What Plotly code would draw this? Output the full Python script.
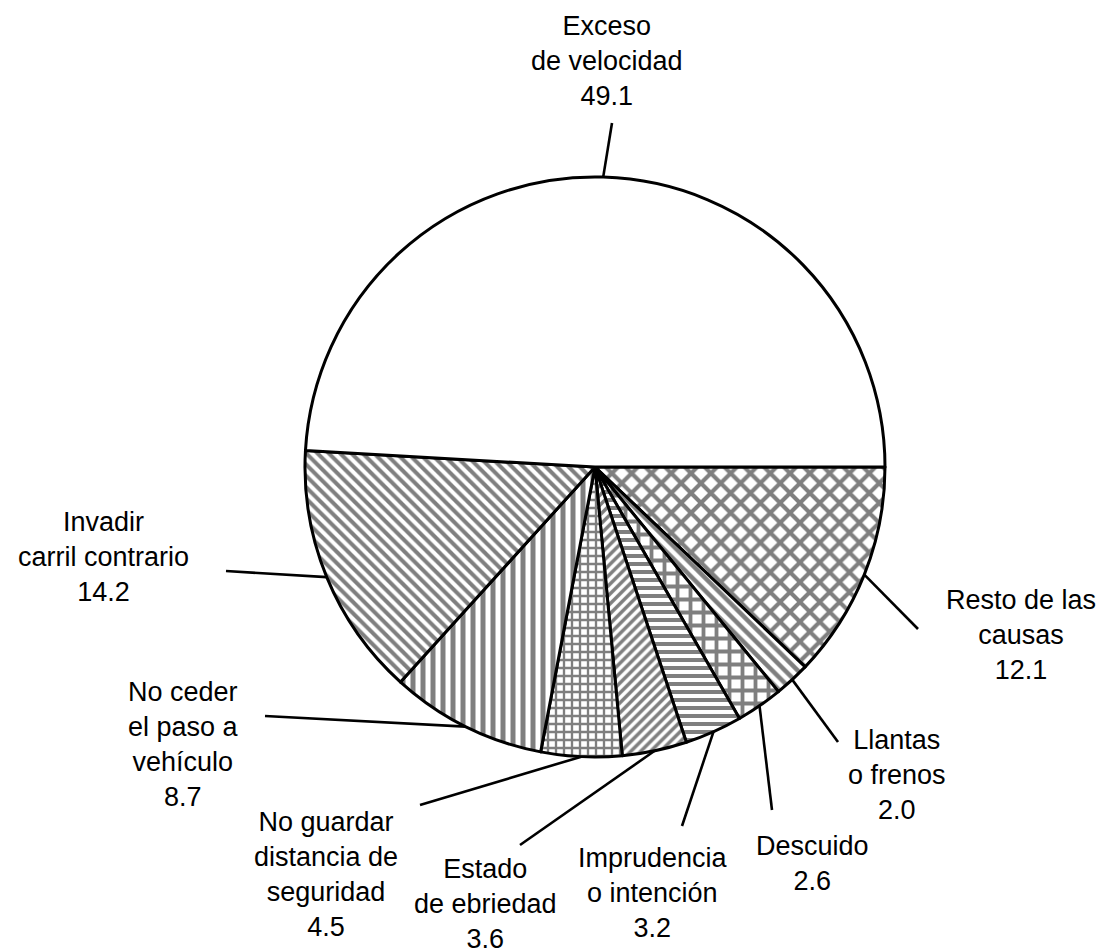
import numpy as np
import plotly.graph_objects as go

# slices, clockwise from 3 o'clock
causas = [
    "Resto de las<br>causas",
    "Llantas<br>o frenos",
    "Descuido",
    "Imprudencia<br>o intención",
    "Estado<br>de ebriedad",
    "No guardar<br>distancia de<br>seguridad",
    "No ceder<br>el paso a<br>vehículo",
    "Invadir<br>carril contrario",
    "Exceso<br>de velocidad",
]
porcentajes = [12.1, 2.0, 2.6, 3.2, 3.6, 4.5, 8.7, 14.2, 49.1]

tramas = ["x", "\\", "+", "-", "/", "+", "|", "\\", ""]
tamanos = [14, 9, 13, 8, 7, 8, 10, 8, 8]

# page size; the browser puts the figure 8 px in from the top-left corner
W, H = 1104, 951
OFF = 8
cx, cy, r = 595, 467, 290

# where each label sits (page pixels) and where its leader line stops
pos_texto = [(1021, 635), (897, 775), (812, 863), (653, 893), (485, 904),
             (326, 874), (183, 744), (103, 557), (607, 61)]
fin_linea = [(918, 629), (838, 742), (772, 810), (682, 826), (520, 845),
             (420, 805), (265, 716), (226, 571), (612, 123)]

# leader lines start at the middle of each slice
total = sum(porcentajes)
acum = np.cumsum([0] + porcentajes)
lx, ly = [], []
for i, p in enumerate(porcentajes):
    mid = (acum[i] + p / 2) / total * 2 * np.pi
    x0 = cx + r * np.cos(mid)
    y0 = cy + r * np.sin(mid)
    lx += [x0, fin_linea[i][0], None]
    ly += [y0, fin_linea[i][1], None]

fig = go.Figure()

fig.add_trace(go.Scatter(
    x=lx, y=ly, mode="lines",
    line=dict(color="black", width=2.6),
    hoverinfo="skip", showlegend=False,
))

fw, fh = W - OFF, H - OFF
fig.add_trace(go.Pie(
    labels=[c.replace("<br>", " ") for c in causas],
    values=porcentajes,
    sort=False,
    direction="clockwise",
    rotation=90,
    textinfo="none",
    showlegend=False,
    marker=dict(
        colors=["white"] * len(porcentajes),
        line=dict(color="black", width=3),
        pattern=dict(shape=tramas, size=tamanos, solidity=0.5,
                     fgcolor="black", bgcolor="white", fillmode="overlay"),
    ),
    domain=dict(x=[(cx - r - OFF) / fw, (cx + r - OFF) / fw],
                y=[(H - cy - r) / fh, (H - cy + r) / fh]),
))

for i, c in enumerate(causas):
    fig.add_annotation(
        x=pos_texto[i][0], y=pos_texto[i][1],
        text=f"{c}<br>{porcentajes[i]:.1f}",
        showarrow=False, align="center",
        xanchor="center", yanchor="middle",
        font=dict(family="Liberation Sans, Arial, sans-serif", size=27, color="black"),
    )

fig.update_layout(
    width=fw, height=fh,
    margin=dict(l=0, r=0, t=0, b=0),
    paper_bgcolor="white", plot_bgcolor="white",
    xaxis=dict(range=[OFF, W], visible=False, fixedrange=True),
    yaxis=dict(range=[H, OFF], visible=False, fixedrange=True),
)

fig.write_html("out.html")
